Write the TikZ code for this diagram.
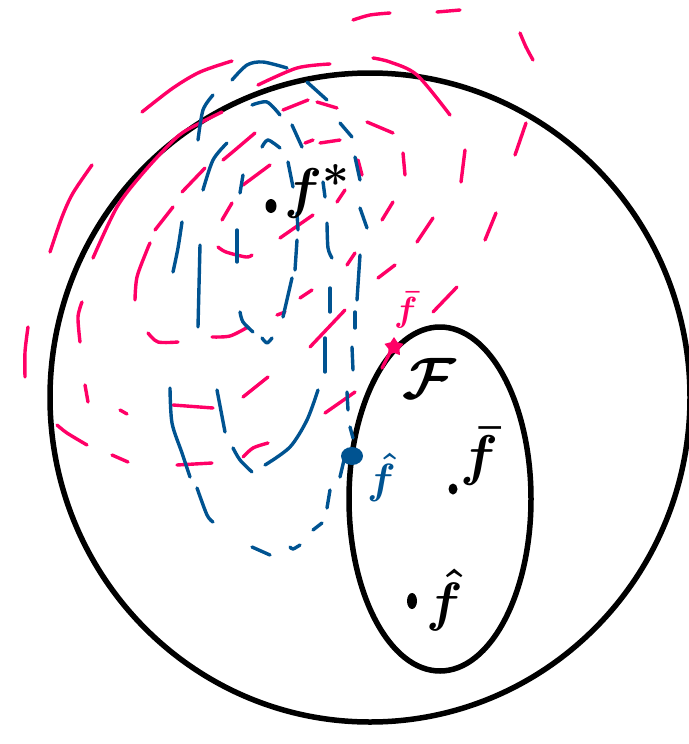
\documentclass[tikz,border=0pt]{standalone}
\usetikzlibrary{shapes.geometric}
\definecolor{pk}{RGB}{255,0,102}
\definecolor{bl}{RGB}{0,83,145}
\tikzset{
  rs/.style={draw=pk, line width=3.4pt, line cap=round, line join=round},
  bs/.style={draw=bl, line width=3.4pt, line cap=round, line join=round},
  ks/.style={draw=black, line width=5.5pt},
  lbl/.style={inner sep=0pt, anchor=base west},
  dotk/.style={fill=black, ellipse, inner sep=0pt},
}
\newcommand{\rstroke}[1]{\draw[rs] plot[smooth] coordinates {#1};}
\newcommand{\bstroke}[1]{\draw[bs] plot[smooth] coordinates {#1};}
\newcommand{\biglbl}[2]{\scalebox{#1}{\Huge\boldmath #2}}
\begin{document}
\begin{tikzpicture}[x=1pt,y=-1pt]
\useasboundingbox (0,0) rectangle (688,744);
% outer set and F
\draw[ks] (370,397.5) ellipse [x radius=320pt, y radius=324.5pt];
\draw[ks] (440,499) ellipse [x radius=91pt, y radius=172pt];
% red level sets
\rstroke{(353,20) (370,15) (390,13)}
\rstroke{(437,12) (460,10)}
\rstroke{(520,33) (526,47) (533,60)}
\rstroke{(526,123) (515,155)}
\rstroke{(496,213) (485,240)}
\rstroke{(457,287) (433,312)}
\rstroke{(355,392) (325,413)}
\rstroke{(268,443) (253,448) (243,457)}
\rstroke{(212,463) (177,465)}
\rstroke{(128,462) (112,455)}
\rstroke{(87,445) (67,433) (57,425)}
\rstroke{(28,327) (25,352) (25,377)}
\rstroke{(92,165) (73,193) (62,217) (50,252)}
\rstroke{(142,112) (173,88) (200,72) (232,61)}
\rstroke{(258,85) (297,68) (330,64)}
\rstroke{(373,58) (390,62) (417,75) (450,115)}
\rstroke{(465,150) (461,182)}
\rstroke{(433,218) (417,242)}
\rstroke{(395,265) (378,278)}
\rstroke{(345,310) (310,347)}
\rstroke{(268,377) (243,397)}
\rstroke{(213,408) (173,405)}
\rstroke{(127,414) (120,410)}
\rstroke{(88,402) (85,385)}
\rstroke{(82,302) (78,317) (80,342)}
\rstroke{(93,258) (117,207) (143,173) (177,137) (200,123) (222,112)}
\rstroke{(283,110) (308,100)}
\rstroke{(317,102) (337,108)}
\rstroke{(367,122) (393,133)}
\rstroke{(403,153) (405,175)}
\rstroke{(393,202) (382,220)}
\rstroke{(355,253) (347,265)}
\rstroke{(312,290) (300,298)}
\rstroke{(285,312) (277,315)}
\rstroke{(212,337) (230,336) (248,327)}
\rstroke{(178,342) (158,342) (148,333)}
\rstroke{(150,243) (147,250) (137,277) (135,300)}
\rstroke{(155,230) (173,207)}
\rstroke{(182,192) (205,168)}
\rstroke{(223,160) (235,150) (255,133)}
\rstroke{(305,143) (313,140)}
\rstroke{(320,143) (340,140)}
\rstroke{(358,160) (362,175)}
\rstroke{(345,190) (337,202)}
\rstroke{(313,215) (280,238)}
\rstroke{(218,247) (226,252) (246,257) (252,255)}
\rstroke{(222,220) (232,203)}
\rstroke{(243,185) (270,165)}
\rstroke{(393,347) (382,368)}
% blue level sets
\bstroke{(232,80) (247,65) (263,62) (287,68)}
\bstroke{(307,82) (327,100)}
\bstroke{(340,123) (352,137)}
\bstroke{(355,157) (360,180)}
\bstroke{(360,208) (367,228)}
\bstroke{(360,255) (357,300)}
\bstroke{(355,312) (355,328)}
\bstroke{(352,347) (353,370)}
\bstroke{(347,392) (348,410)}
\bstroke{(350,427) (353,438)}
\bstroke{(344,460) (340,477)}
\bstroke{(330,490) (327,508)}
\bstroke{(322,523) (313,530)}
\bstroke{(290,547) (293,549) (300,545)}
\bstroke{(270,555) (252,547)}
\bstroke{(213,522) (207,515) (197,488)}
\bstroke{(190,477) (182,453) (172,423) (170,388)}
\bstroke{(173,272) (178,248) (182,222)}
\bstroke{(198,140) (203,110) (213,95)}
\bstroke{(227,143) (213,160) (203,190)}
\bstroke{(200,245) (198,327)}
\bstroke{(217,390) (225,432)}
\bstroke{(252,105) (267,102) (280,115)}
\bstroke{(292,125) (302,147)}
\bstroke{(262,147) (268,140) (280,148)}
\bstroke{(288,162) (293,187)}
\bstroke{(243,175) (240,193)}
\bstroke{(237,230) (237,262)}
\bstroke{(297,213) (298,230)}
\bstroke{(297,240) (295,270)}
\bstroke{(292,278) (283,317)}
\bstroke{(240,312) (243,322) (253,332)}
\bstroke{(262,338) (267,343) (272,338)}
\bstroke{(323,182) (325,197)}
\bstroke{(327,223) (328,248) (332,258)}
\bstroke{(330,288) (330,312)}
\bstroke{(325,338) (325,372)}
\bstroke{(318,390) (307,420) (290,447) (265,465)}
\bstroke{(233,448) (240,460) (252,472)}
% special points
\node[star, star points=5, star point ratio=1.7, fill=pk, minimum size=20pt, inner sep=0pt] (rp) at (394,347) {};
\node[ellipse, fill=bl, minimum width=22pt, minimum height=18pt, inner sep=0pt] (bp) at (352,456) {};
% black dots
\node[dotk, minimum width=11pt, minimum height=14pt] (dstar) at (271,206) {};
\node[dotk, minimum width=9pt, minimum height=11pt] (dbar) at (453,489) {};
\node[dotk, minimum width=10pt, minimum height=16pt] (dhat) at (412,601) {};
% labels
\node[lbl] (fstar) at (284,207) {\biglbl{2.25}{$f^{*}$}};
\node[lbl] (calF) at (402,398) {\biglbl{2.35}{$\mathcal{F}$}};
\node[lbl] (fbar) at (460,474) {\biglbl{2.25}{$\bar{f}$}};
\node[lbl] (fhat) at (426,620) {\biglbl{2.17}{$\hat{f}$}};
\node[lbl, text=pk] (fbarred) at (394,321) {\biglbl{1.4}{$\bar{f}$}};
\node[lbl, text=bl] (fhatblue) at (367,493) {\biglbl{1.7}{$\hat{f}$}};
\end{tikzpicture}
\end{document}
